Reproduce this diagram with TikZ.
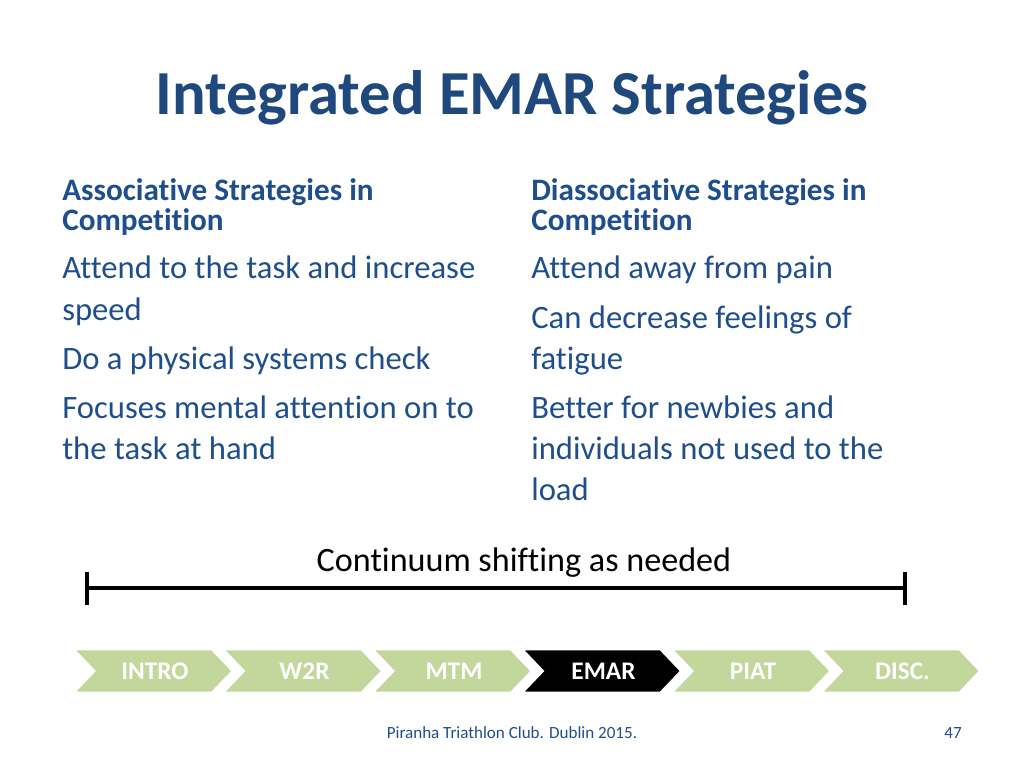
\documentclass[tikz,border=0pt]{standalone}
\usepackage{fontspec}
\setmainfont[Ligatures=NoCommon]{Carlito}
\definecolor{tblue}{HTML}{1F497D}
\definecolor{bblue}{HTML}{1F4E8C}
\definecolor{chev}{HTML}{C3D69B}
\begin{document}
\begin{tikzpicture}[x=0.75pt,y=-0.75pt,
  hdr/.style={anchor=north west,text=bblue,font=\fontsize{23.4}{22.5}\selectfont\bfseries,align=left,inner sep=0},
  body/.style={anchor=north west,text=bblue,font=\fontsize{24.5}{30.8}\selectfont,align=left,inner sep=0},
  chevs/.style={fill=#1,draw=white,line width=2pt},
  ctext/.style={font=\fontsize{19}{19}\selectfont\bfseries}]
\useasboundingbox (0,0) rectangle (1024,768);
\node[anchor=center,text=tblue,font=\fontsize{47}{50}\selectfont\bfseries,inner sep=0] (title) at (512,98) {Integrated EMAR Strategies};
\node[hdr] (h1) at (62,178) {Associative Strategies in\\Competition};
\node[hdr] (h2) at (531,178) {Diassociative Strategies in\\Competition};
\node[body] (b1) at (62,256) {Attend to the task and increase\\speed\\[6pt]Do a physical systems check\\[6pt]Focuses mental attention on to\\the task at hand};
\node[body] (b2) at (531,256) {Attend away from pain\\[6pt]Can decrease feelings of\\fatigue\\[6pt]Better for newbies and\\individuals not used to the\\load};
\node[font=\fontsize{25.6}{25}\selectfont,inner sep=0] (ct) at (524,563) {Continuum shifting as needed};
\coordinate (l) at (87,588); \coordinate (r) at (905,588);
\draw[line width=3pt] (l) -- (r);
\draw[line width=3pt] (87,572) -- (87,605);
\draw[line width=3pt] (905,572) -- (905,605);
\foreach \i/\t/\c in {0/INTRO/chev,1/W2R/chev,2/MTM/chev,3/EMAR/black,4/PIAT/chev,5/DISC./chev}{
  \pgfmathsetmacro{\xx}{73+149.5*\i}
  \draw[chevs=\c] (\xx,649) -- ++(139,0) -- ++(21,22) -- ++(-21,22) -- ++(-139,0) -- ++(21,-22) -- cycle;
  \node[ctext,text=white] (c\i) at (\xx+82,671) {\t};
}
\node[font=\fontsize{12.8}{13}\selectfont,text=bblue,inner sep=0] (foot) at (512,733) {Piranha Triathlon Club. Dublin 2015.};
\node[font=\fontsize{12.8}{13}\selectfont,text=bblue,inner sep=0] (pg) at (953,733) {47};
\end{tikzpicture}
\end{document}
